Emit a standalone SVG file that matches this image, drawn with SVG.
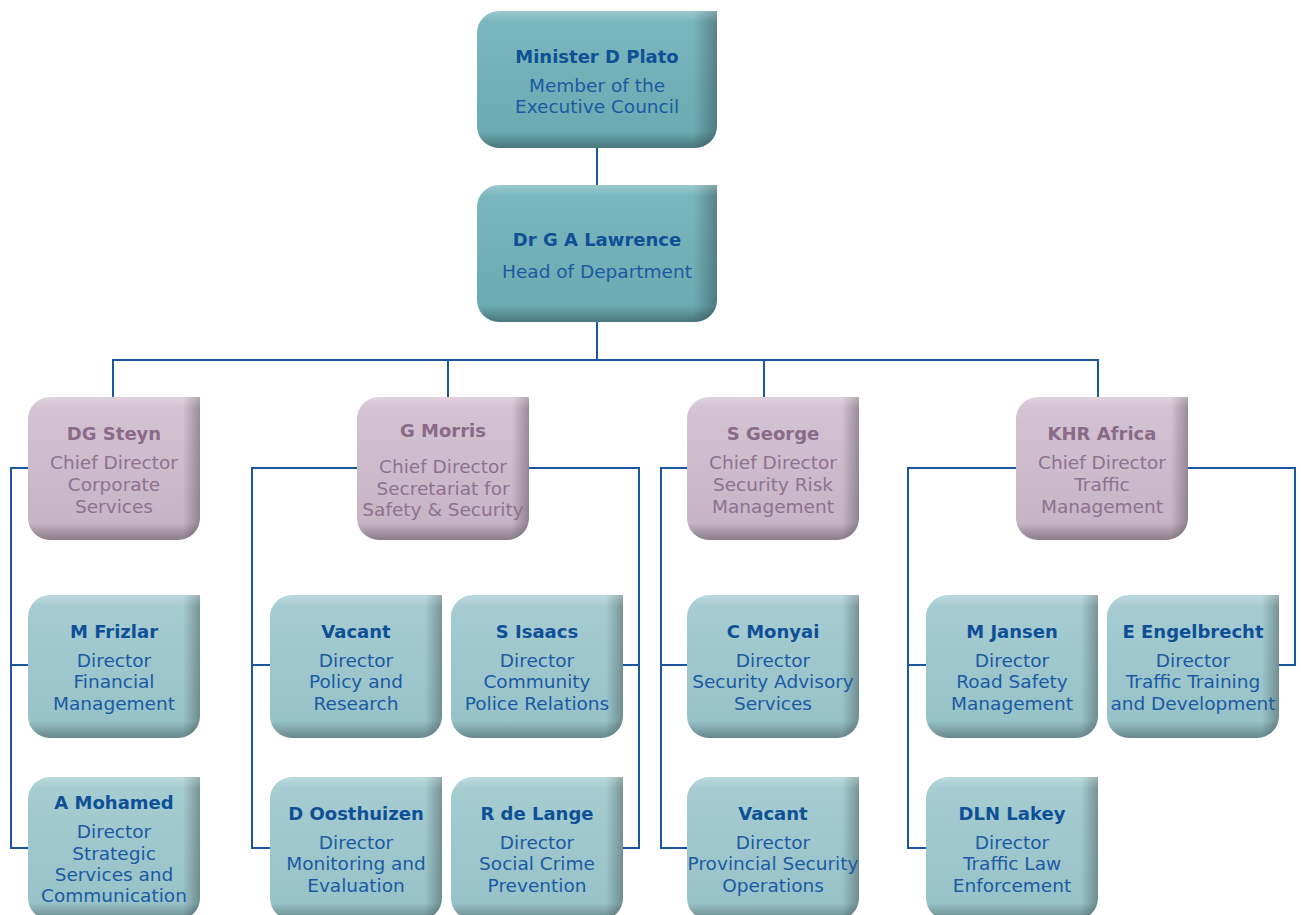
<svg xmlns="http://www.w3.org/2000/svg" xmlns:xlink="http://www.w3.org/1999/xlink" width="1301" height="915" viewBox="0 0 1301 915">
<style>
.conn{fill:none;stroke:#1b57a0;stroke-width:2}
text{font-family:"DejaVu Sans","Liberation Sans",sans-serif;text-anchor:middle}
.nm{font-weight:bold;font-size:18px;fill:#0f4f96}
.ln{font-size:18.5px;fill:#1b5aa3}
.pnm{font-weight:bold;font-size:18px;fill:#8a6a88}
.pln{font-size:18.5px;fill:#8f7190}
</style>
<defs>
<path id="bx" d="M22,0 H172 V121 A22,22 0 0 1 150,143 H22 A22,22 0 0 1 0,121 V22 A22,22 0 0 1 22,0 Z"/>
<path id="big" d="M22,0 H240 V115 A22,22 0 0 1 218,137 H22 A22,22 0 0 1 0,115 V22 A22,22 0 0 1 22,0 Z"/>
<linearGradient id="gTeal" x1="0" y1="0" x2="0" y2="1"><stop offset="0" stop-color="#7bb7bf"/><stop offset="1" stop-color="#6aa9b1"/></linearGradient>
<linearGradient id="gLight" x1="0" y1="0" x2="0" y2="1"><stop offset="0" stop-color="#a6cdd2"/><stop offset="1" stop-color="#95c1c7"/></linearGradient>
<linearGradient id="gPink" x1="0" y1="0" x2="0" y2="1"><stop offset="0" stop-color="#d5c4d3"/><stop offset="1" stop-color="#c5b2c3"/></linearGradient>
<linearGradient id="shR" x1="0" y1="0" x2="1" y2="0"><stop offset="0.9" stop-color="#000" stop-opacity="0"/><stop offset="1" stop-color="#000" stop-opacity="0.28"/></linearGradient>
<linearGradient id="shB" x1="0" y1="0" x2="0" y2="1"><stop offset="0" stop-color="#fff" stop-opacity="0.25"/><stop offset="0.08" stop-color="#fff" stop-opacity="0"/><stop offset="0.88" stop-color="#000" stop-opacity="0"/><stop offset="1" stop-color="#000" stop-opacity="0.3"/></linearGradient>
</defs>

<g id="connectors" class="conn">
<path d="M597,148 V185"/>
<path d="M597,322 V360"/>
<path d="M113,397 V360 H1098 V397"/>
<path d="M448,360 V397"/>
<path d="M764,360 V397"/>
<path d="M28,468 H11 V848 H28 M11,665 H28"/>
<path d="M357,468 H252 V848 H270 M252,665 H270"/>
<path d="M529,468 H639 V848 H622 M639,665 H622"/>
<path d="M687,468 H661 V848 H687 M661,665 H687"/>
<path d="M1016,468 H908 V848 H926 M908,665 H926"/>
<path d="M1188,468 H1295 V665 H1279"/>
</g>

<g id="n-plato" transform="translate(477,11)">
<use xlink:href="#big" fill="url(#gTeal)"/><use xlink:href="#big" fill="url(#shR)"/><use xlink:href="#big" fill="url(#shB)"/>
<text x="120" y="52" class="nm" font-size="19">Minister D Plato</text>
<text x="120" y="81" class="ln">Member of the</text>
<text x="120" y="102" class="ln">Executive Council</text>
</g>
<g id="n-lawrence" transform="translate(477,185)">
<use xlink:href="#big" fill="url(#gTeal)"/><use xlink:href="#big" fill="url(#shR)"/><use xlink:href="#big" fill="url(#shB)"/>
<text x="120" y="61" class="nm">Dr G A Lawrence</text>
<text x="120" y="93" class="ln">Head of Department</text>
</g>

<g id="n-steyn" transform="translate(28,397)">
<use xlink:href="#bx" fill="url(#gPink)"/><use xlink:href="#bx" fill="url(#shR)"/><use xlink:href="#bx" fill="url(#shB)"/>
<text x="86" y="43" class="pnm">DG Steyn</text>
<text x="86" y="72" class="pln">Chief Director</text>
<text x="86" y="94" class="pln">Corporate</text>
<text x="86" y="116" class="pln">Services</text>
</g>
<g id="n-morris" transform="translate(357,397)">
<use xlink:href="#bx" fill="url(#gPink)"/><use xlink:href="#bx" fill="url(#shR)"/><use xlink:href="#bx" fill="url(#shB)"/>
<text x="86" y="40" class="pnm">G Morris</text>
<text x="86" y="76" class="pln">Chief Director</text>
<text x="86" y="98" class="pln">Secretariat for</text>
<text x="86" y="119" class="pln">Safety &amp; Security</text>
</g>
<g id="n-george" transform="translate(687,397)">
<use xlink:href="#bx" fill="url(#gPink)"/><use xlink:href="#bx" fill="url(#shR)"/><use xlink:href="#bx" fill="url(#shB)"/>
<text x="86" y="43" class="pnm">S George</text>
<text x="86" y="72" class="pln">Chief Director</text>
<text x="86" y="94" class="pln">Security Risk</text>
<text x="86" y="116" class="pln">Management</text>
</g>
<g id="n-africa" transform="translate(1016,397)">
<use xlink:href="#bx" fill="url(#gPink)"/><use xlink:href="#bx" fill="url(#shR)"/><use xlink:href="#bx" fill="url(#shB)"/>
<text x="86" y="43" class="pnm">KHR Africa</text>
<text x="86" y="72" class="pln">Chief Director</text>
<text x="86" y="94" class="pln">Traffic</text>
<text x="86" y="116" class="pln">Management</text>
</g>

<g id="n-frizlar" transform="translate(28,595)">
<use xlink:href="#bx" fill="url(#gLight)"/><use xlink:href="#bx" fill="url(#shR)"/><use xlink:href="#bx" fill="url(#shB)"/>
<text x="86" y="43" class="nm">M Frizlar</text>
<text x="86" y="72" class="ln">Director</text>
<text x="86" y="93" class="ln">Financial</text>
<text x="86" y="115" class="ln">Management</text>
</g>
<g id="n-mohamed" transform="translate(28,777)">
<use xlink:href="#bx" fill="url(#gLight)"/><use xlink:href="#bx" fill="url(#shR)"/><use xlink:href="#bx" fill="url(#shB)"/>
<text x="86" y="32" class="nm">A Mohamed</text>
<text x="86" y="61" class="ln">Director</text>
<text x="86" y="83" class="ln">Strategic</text>
<text x="86" y="104" class="ln">Services and</text>
<text x="86" y="125" class="ln">Communication</text>
</g>

<g id="n-vacant1" transform="translate(270,595)">
<use xlink:href="#bx" fill="url(#gLight)"/><use xlink:href="#bx" fill="url(#shR)"/><use xlink:href="#bx" fill="url(#shB)"/>
<text x="86" y="43" class="nm">Vacant</text>
<text x="86" y="72" class="ln">Director</text>
<text x="86" y="93" class="ln">Policy and</text>
<text x="86" y="115" class="ln">Research</text>
</g>
<g id="n-isaacs" transform="translate(451,595)">
<use xlink:href="#bx" fill="url(#gLight)"/><use xlink:href="#bx" fill="url(#shR)"/><use xlink:href="#bx" fill="url(#shB)"/>
<text x="86" y="43" class="nm">S Isaacs</text>
<text x="86" y="72" class="ln">Director</text>
<text x="86" y="93" class="ln">Community</text>
<text x="86" y="115" class="ln">Police Relations</text>
</g>
<g id="n-oosthuizen" transform="translate(270,777)">
<use xlink:href="#bx" fill="url(#gLight)"/><use xlink:href="#bx" fill="url(#shR)"/><use xlink:href="#bx" fill="url(#shB)"/>
<text x="86" y="43" class="nm">D Oosthuizen</text>
<text x="86" y="72" class="ln">Director</text>
<text x="86" y="93" class="ln">Monitoring and</text>
<text x="86" y="115" class="ln">Evaluation</text>
</g>
<g id="n-delange" transform="translate(451,777)">
<use xlink:href="#bx" fill="url(#gLight)"/><use xlink:href="#bx" fill="url(#shR)"/><use xlink:href="#bx" fill="url(#shB)"/>
<text x="86" y="43" class="nm">R de Lange</text>
<text x="86" y="72" class="ln">Director</text>
<text x="86" y="93" class="ln">Social Crime</text>
<text x="86" y="115" class="ln">Prevention</text>
</g>

<g id="n-monyai" transform="translate(687,595)">
<use xlink:href="#bx" fill="url(#gLight)"/><use xlink:href="#bx" fill="url(#shR)"/><use xlink:href="#bx" fill="url(#shB)"/>
<text x="86" y="43" class="nm">C Monyai</text>
<text x="86" y="72" class="ln">Director</text>
<text x="86" y="93" class="ln">Security Advisory</text>
<text x="86" y="115" class="ln">Services</text>
</g>
<g id="n-vacant2" transform="translate(687,777)">
<use xlink:href="#bx" fill="url(#gLight)"/><use xlink:href="#bx" fill="url(#shR)"/><use xlink:href="#bx" fill="url(#shB)"/>
<text x="86" y="43" class="nm">Vacant</text>
<text x="86" y="72" class="ln">Director</text>
<text x="86" y="93" class="ln">Provincial Security</text>
<text x="86" y="115" class="ln">Operations</text>
</g>

<g id="n-jansen" transform="translate(926,595)">
<use xlink:href="#bx" fill="url(#gLight)"/><use xlink:href="#bx" fill="url(#shR)"/><use xlink:href="#bx" fill="url(#shB)"/>
<text x="86" y="43" class="nm">M Jansen</text>
<text x="86" y="72" class="ln">Director</text>
<text x="86" y="93" class="ln">Road Safety</text>
<text x="86" y="115" class="ln">Management</text>
</g>
<g id="n-engelbrecht" transform="translate(1107,595)">
<use xlink:href="#bx" fill="url(#gLight)"/><use xlink:href="#bx" fill="url(#shR)"/><use xlink:href="#bx" fill="url(#shB)"/>
<text x="86" y="43" class="nm">E Engelbrecht</text>
<text x="86" y="72" class="ln">Director</text>
<text x="86" y="93" class="ln">Traffic Training</text>
<text x="86" y="115" class="ln">and Development</text>
</g>
<g id="n-lakey" transform="translate(926,777)">
<use xlink:href="#bx" fill="url(#gLight)"/><use xlink:href="#bx" fill="url(#shR)"/><use xlink:href="#bx" fill="url(#shB)"/>
<text x="86" y="43" class="nm">DLN Lakey</text>
<text x="86" y="72" class="ln">Director</text>
<text x="86" y="93" class="ln">Traffic Law</text>
<text x="86" y="115" class="ln">Enforcement</text>
</g>
</svg>
